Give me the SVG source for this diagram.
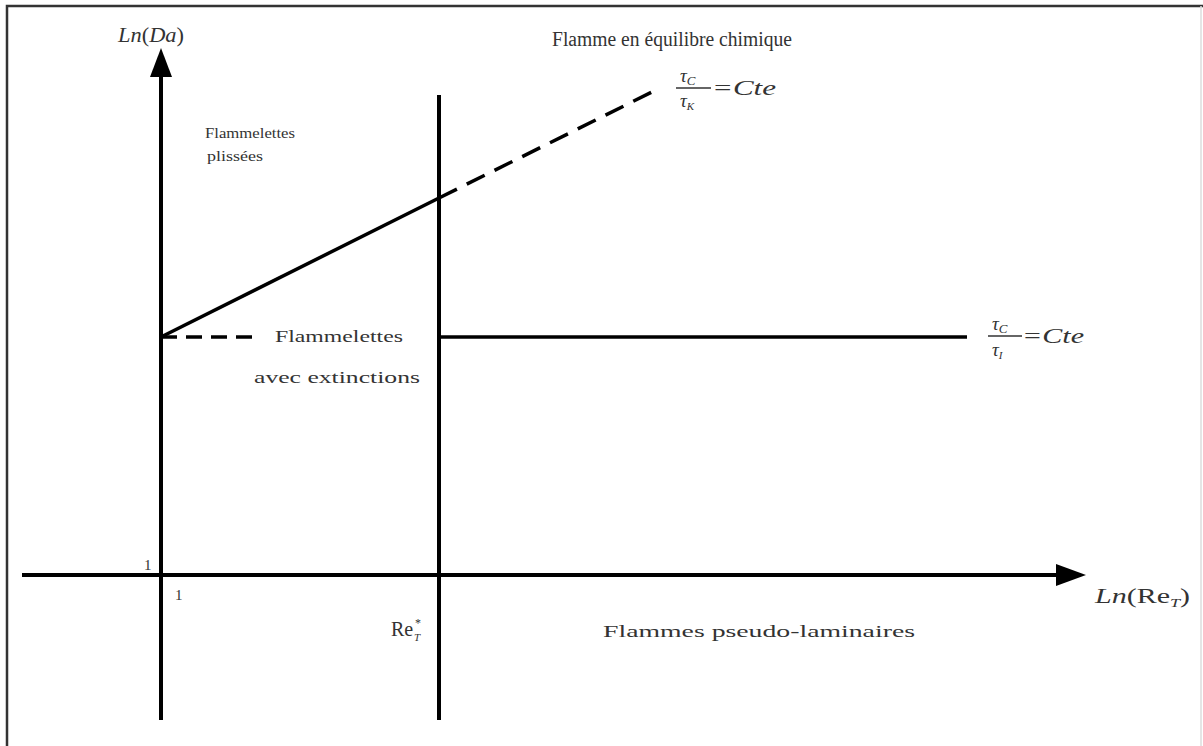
<svg xmlns="http://www.w3.org/2000/svg" width="1203" height="746" viewBox="0 0 1203 746">
<style>
.t{font-family:"Liberation Serif",serif;fill:#333}
.i{font-style:italic}
.ax{stroke:#000;stroke-width:4;fill:none}
.ln{stroke:#000;stroke-width:3.5;fill:none}
.ds{stroke:#000;stroke-width:3.5;fill:none;stroke-dasharray:20 11}
.fb{stroke:#333;stroke-width:1.5}
</style>
<rect width="1203" height="746" fill="#fff"/>
<g id="frame" fill="none" stroke="#333" stroke-width="2.5">
<path d="M7,746 V6 H1203"/>
<path d="M1201,6 V746" stroke="#ddd" stroke-width="1.5"/>
</g>
<g id="connectors">
<line class="ax" x1="161" y1="720" x2="161" y2="72"/>
<polygon points="161,48 150,77 172,77" fill="#000"/>
<line class="ax" x1="22" y1="575" x2="1060" y2="575"/>
<polygon points="1086,575 1056,564 1056,586" fill="#000"/>
<line class="ax" x1="439" y1="95" x2="439" y2="720"/>
<line class="ln" x1="161" y1="337" x2="439" y2="198"/>
<line class="ds" x1="439" y1="198" x2="660" y2="88"/>
<line class="ln" x1="161" y1="337" x2="256" y2="337" stroke-dasharray="16 9"/>
<line class="ln" x1="439" y1="337" x2="967" y2="337"/>
</g>
<g id="label-yaxis"><text class="t" x="118" y="42" font-size="21" textLength="66" lengthAdjust="spacingAndGlyphs"><tspan class="i">Ln</tspan>(<tspan class="i">Da</tspan>)</text></g>
<g id="label-title"><text class="t" x="552" y="46" font-size="20" textLength="240" lengthAdjust="spacingAndGlyphs">Flamme en équilibre chimique</text></g>
<g id="label-tauK">
<text class="t i" x="680" y="82" font-size="19">τ<tspan font-size="13" dy="3">C</tspan></text>
<line class="fb" x1="676" y1="88" x2="711" y2="88"/>
<text class="t i" x="680" y="107" font-size="19">τ<tspan font-size="11" dy="3">K</tspan></text>
<text class="t i" x="712" y="95" font-size="22" textLength="64" lengthAdjust="spacingAndGlyphs">=Cte</text>
</g>
<g id="label-tauI">
<text class="t i" x="992" y="330" font-size="19">τ<tspan font-size="13" dy="3">C</tspan></text>
<line class="fb" x1="988" y1="336" x2="1022" y2="336"/>
<text class="t i" x="992" y="356" font-size="19">τ<tspan font-size="11" dy="3">I</tspan></text>
<text class="t i" x="1022" y="343" font-size="22" textLength="62" lengthAdjust="spacingAndGlyphs">=Cte</text>
</g>
<g id="label-plissees"><text class="t" x="205" y="138" font-size="15" textLength="90" lengthAdjust="spacingAndGlyphs">Flammelettes</text><text class="t" x="207" y="161" font-size="15" textLength="56" lengthAdjust="spacingAndGlyphs">plissées</text></g>
<g id="label-extinctions"><text class="t" x="275" y="342" font-size="17" textLength="128" lengthAdjust="spacingAndGlyphs">Flammelettes</text><text class="t" x="254" y="383" font-size="17" textLength="166" lengthAdjust="spacingAndGlyphs">avec extinctions</text></g>
<g id="label-one-y"><text class="t" x="144" y="570" font-size="15">1</text></g>
<g id="label-one-x"><text class="t" x="175" y="600" font-size="15">1</text></g>
<g id="label-xaxis"><text class="t" x="1095" y="603" font-size="20" textLength="95" lengthAdjust="spacingAndGlyphs"><tspan class="i">Ln</tspan>(Re<tspan class="i" font-size="12" dy="4">T</tspan><tspan dy="-4">)</tspan></text></g>
<g id="label-ret"><text class="t" x="391" y="636" font-size="20">Re</text><text class="t" x="415" y="627" font-size="12">*</text><text class="t i" x="414" y="641" font-size="11">T</text></g>
<g id="label-pseudo"><text class="t" x="603" y="637" font-size="17" textLength="312" lengthAdjust="spacingAndGlyphs">Flammes pseudo-laminaires</text></g>
</svg>
